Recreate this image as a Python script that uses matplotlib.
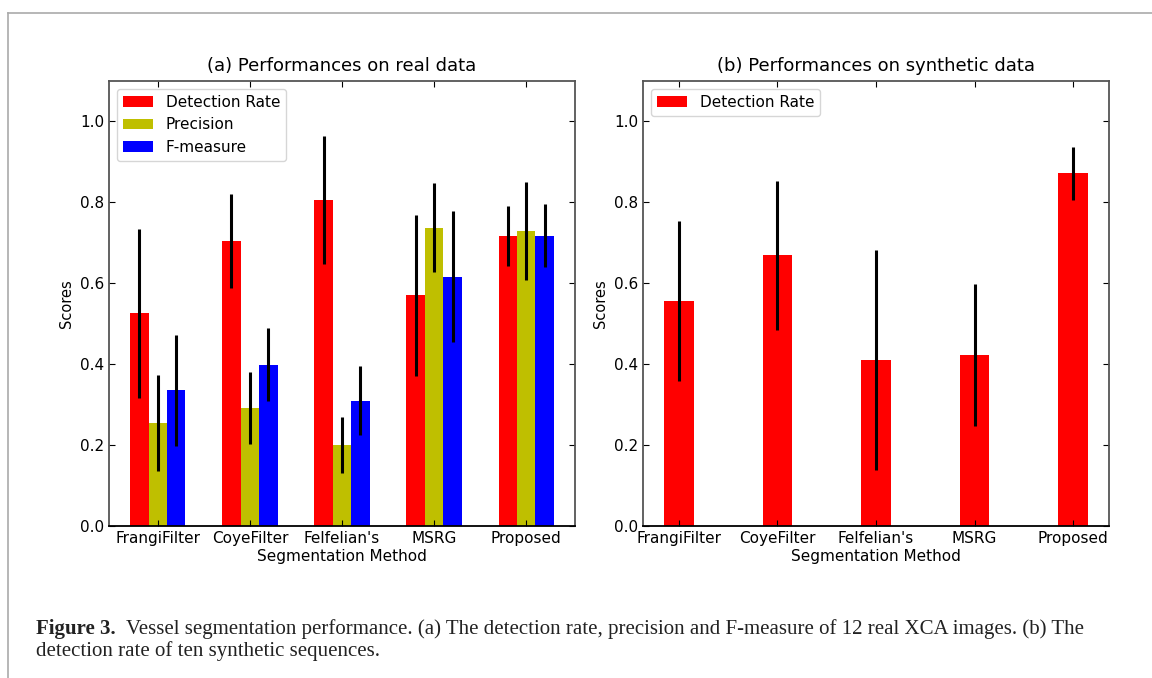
import numpy as np
import matplotlib
matplotlib.use("Agg")
import matplotlib.pyplot as plt
from matplotlib.lines import Line2D

methods = ["FrangiFilter", "CoyeFilter", "Felfelian's", "MSRG", "Proposed"]

# (a) real data: mean and error half-width
real_detection = [0.526, 0.704, 0.805, 0.571, 0.717]
real_detection_err = [0.209, 0.116, 0.158, 0.199, 0.074]
real_precision = [0.255, 0.291, 0.200, 0.737, 0.729]
real_precision_err = [0.118, 0.089, 0.069, 0.110, 0.122]
real_fmeasure = [0.335, 0.399, 0.310, 0.616, 0.717]
real_fmeasure_err = [0.138, 0.091, 0.086, 0.162, 0.078]

# (b) synthetic data
syn_detection = [0.556, 0.669, 0.411, 0.423, 0.872]
syn_detection_err = [0.198, 0.185, 0.272, 0.175, 0.065]

caption_bold = "Figure 3."
caption_line1 = ("Vessel segmentation performance. (a) The detection rate, precision and "
                 "F-measure of 12 real XCA images. (b) The")
caption_line2 = "detection rate of ten synthetic sequences."

W, H = 1152, 678
fig = plt.figure(figsize=(W / 100, H / 100), dpi=100)

def px_axes(x0, y0, x1, y1):
    return fig.add_axes([x0 / W, 1 - y1 / H, (x1 - x0) / W, (y1 - y0) / H])

def style_axes(ax):
    ax.tick_params(direction="in", top=True, right=True, labelsize=11, length=4.2)
    for s in ax.spines.values():
        s.set_color("#555555")
        s.set_linewidth(1.3)
    ax.spines["bottom"].set_color("black")
    ax.set_ylim(0, 1.1)
    ax.set_yticks([0.0, 0.2, 0.4, 0.6, 0.8, 1.0])
    ax.set_ylabel("Scores", fontsize=10.5)
    ax.set_xlabel("Segmentation Method", fontsize=11, labelpad=2)
    ax.set_xticks(np.arange(len(methods)))
    ax.set_xticklabels(methods)

err_kw = dict(ecolor="black", elinewidth=2.2, capsize=0)
x = np.arange(len(methods))

# left panel
ax1 = px_axes(109, 81, 575, 526)
w = 0.2
ax1.bar(x - w, real_detection, w, yerr=real_detection_err, color="r",
        label="Detection Rate", error_kw=err_kw)
ax1.bar(x, real_precision, w, yerr=real_precision_err, color="y",
        label="Precision", error_kw=err_kw)
ax1.bar(x + w, real_fmeasure, w, yerr=real_fmeasure_err, color="b",
        label="F-measure", error_kw=err_kw)
style_axes(ax1)
ax1.set_title("(a) Performances on real data", fontsize=13, pad=7)
ax1.legend(loc="upper left", fontsize=11)

# right panel
ax2 = px_axes(643, 81, 1109, 526)
ax2.bar(x, syn_detection, 0.3, yerr=syn_detection_err, color="r",
        label="Detection Rate", error_kw=err_kw)
style_axes(ax2)
ax2.set_title("(b) Performances on synthetic data", fontsize=13, pad=7)
ax2.legend(loc="upper left", fontsize=11)

# page frame lines
fig.add_artist(Line2D([8 / W, 1], [1 - 13 / H, 1 - 13 / H], color="#aaaaaa", lw=1.2))
fig.add_artist(Line2D([8 / W, 8 / W], [0, 1 - 13 / H], color="#aaaaaa", lw=1.2))

# caption
cap_font = dict(family="Liberation Serif", fontsize=15, color="#222222")
t = fig.text(36 / W, 1 - 629 / H, caption_bold, fontweight="bold", va="center", **cap_font)
renderer = fig.canvas.get_renderer()
bb = t.get_window_extent(renderer)
fig.text((bb.x1 + 10) / W, 1 - 629 / H, caption_line1, va="center", **cap_font)
fig.text(36 / W, 1 - 651 / H, caption_line2, va="center", **cap_font)

fig.savefig("out.png", dpi=100)
